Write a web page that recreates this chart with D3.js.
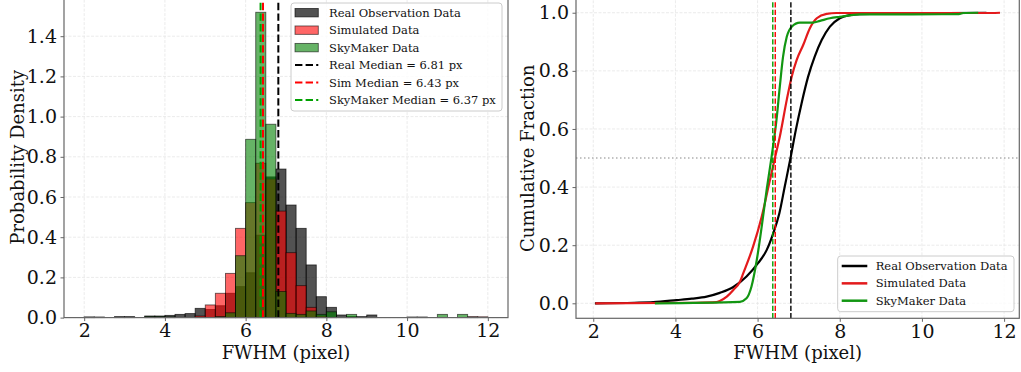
<!DOCTYPE html>
<html>
<head>
<meta charset="utf-8">
<script src="https://cdn.jsdelivr.net/npm/d3@7"></script>
<style>
  html, body { margin: 0; padding: 0; background: #fff; }
  svg { display: block; font-family: "DejaVu Serif", serif; }
</style>
</head>
<body>
<svg id="chart" width="1021" height="372"></svg>
<script>
// ---- histogram bins (FWHM, pixel) ----
const binEdges = [2.0, 2.25, 2.5, 2.75, 3.0, 3.25, 3.5, 3.75, 4.0, 4.25,
  4.5, 4.75, 5.0, 5.25, 5.5, 5.75, 6.0, 6.25, 6.5, 6.75,
  7.0, 7.25, 7.5, 7.75, 8.0, 8.25, 8.5, 8.75, 9.0, 9.25,
  9.5, 9.75, 10.0, 10.25, 10.5, 10.75, 11.0, 11.25, 11.5, 11.75, 12.0];

// probability density per bin
const realDensity = [0.003, 0.003, 0, 0.005, 0.005, 0, 0.008, 0.008, 0.011, 0.016,
  0.02, 0.046, 0.04, 0.059, 0.121, 0.154, 0.223, 0.41, 0.70, 0.739,
  0.56, 0.444, 0.262, 0.104, 0.051, 0.013, 0.005, 0.005, 0.013, 0,
  0, 0, 0.003, 0.003, 0, 0, 0, 0, 0.003, 0];
const simDensity = [0.002, 0, 0, 0, 0, 0, 0, 0, 0, 0,
  0, 0.008, 0.063, 0.121, 0.220, 0.444, 0.572, 0.768, 0.69, 0.53,
  0.323, 0.159, 0.051, 0.008, 0, 0, 0, 0, 0, 0,
  0, 0, 0, 0, 0, 0, 0, 0, 0.004, 0.004];
const skyDensity = [0, 0, 0, 0, 0, 0, 0.005, 0.005, 0.004, 0,
  0, 0, 0, 0.005, 0.024, 0.308, 0.887, 1.519, 0.962, 0.13,
  0.021, 0.016, 0.033, 0.016, 0.029, 0, 0.016, 0, 0, 0,
  0, 0, 0, 0, 0, 0.016, 0, 0.016, 0, 0];

// medians (px)
const medianReal = 6.81, medianSim = 6.43, medianSky = 6.37;

// cumulative distributions: [FWHM, fraction]
const cdfReal = [[2.04, 0], [3.0, 0.002], [3.46, 0.004], [4.03, 0.011], [4.4, 0.016],
  [4.76, 0.023], [5.08, 0.036], [5.41, 0.056], [5.73, 0.092], [6.01, 0.138],
  [6.22, 0.183], [6.38, 0.241], [6.53, 0.31], [6.66, 0.401], [6.80, 0.499],
  [6.93, 0.596], [7.07, 0.688], [7.23, 0.78], [7.39, 0.849], [7.56, 0.906],
  [7.76, 0.952], [8.0, 0.981], [8.25, 0.992], [8.49, 0.995], [9.2, 0.997],
  [10.3, 0.998], [11.57, 1.0]];
const cdfSim = [[2.05, 0], [4.5, 0.002], [5.0, 0.004], [5.08, 0.008], [5.25, 0.023],
  [5.41, 0.046], [5.57, 0.074], [5.65, 0.103], [5.89, 0.195], [6.10, 0.298],
  [6.30, 0.424], [6.42, 0.499], [6.54, 0.573], [6.71, 0.70], [6.83, 0.78],
  [6.95, 0.837], [7.11, 0.889], [7.27, 0.946], [7.44, 0.981], [7.68, 0.996],
  [7.92, 0.999], [11.5, 0.999], [11.9, 1.0]];
const cdfSky = [[3.5, 0], [5.57, 0.005], [5.73, 0.017], [5.85, 0.057], [5.98, 0.149],
  [6.10, 0.264], [6.22, 0.39], [6.34, 0.504], [6.46, 0.631], [6.54, 0.745],
  [6.62, 0.849], [6.71, 0.917], [6.83, 0.952], [7.03, 0.966], [7.35, 0.966],
  [7.52, 0.972], [7.76, 0.981], [8.0, 0.986], [8.49, 0.994], [10.9, 0.995],
  [11.0, 0.999], [11.37, 1.0]];

// ticks
const xTicks = [2, 4, 6, 8, 10, 12];
const densityTicks = [0.0, 0.2, 0.4, 0.6, 0.8, 1.0, 1.2, 1.4];
const cdfTicks = [0.0, 0.2, 0.4, 0.6, 0.8, 1.0];

const histLegend = ["Real Observation Data", "Simulated Data", "SkyMaker Data"];
const medianLegend = ["Real Median = 6.81 px", "Sim Median = 6.43 px", "SkyMaker Median = 6.37 px"];

// ---- drawing ----
const svg = d3.select("#chart");
const TICK_FONT = 19, LABEL_FONT = 18, LEGEND_FONT = 11.5;
const spineColor = "#666";

const xL = d3.scaleLinear().domain([1.5, 12.5]).range([64, 508]);
const yL = d3.scaleLinear().domain([0, 1.595]).range([317.6, -3]);
const xR = d3.scaleLinear().domain([1.58, 12.37]).range([576, 1019.3]);
const yR = d3.scaleLinear().domain([-0.0516, 1.05]).range([318.3, -1.8]);

function panelFrame(x, y, yTicks) {
  const g = svg.append("g");
  const [x0, x1] = x.range();
  const [yb, yt] = y.range();
  // faint grid
  g.append("g").selectAll("line").data(xTicks).join("line")
    .attr("x1", d => x(d)).attr("x2", d => x(d)).attr("y1", yb).attr("y2", yt)
    .attr("stroke", "#e6e6e6").attr("stroke-width", 0.8).attr("stroke-dasharray", "3,1.5");
  g.append("g").selectAll("line").data(yTicks).join("line")
    .attr("x1", x0).attr("x2", x1).attr("y1", d => y(d)).attr("y2", d => y(d))
    .attr("stroke", "#e6e6e6").attr("stroke-width", 0.8).attr("stroke-dasharray", "3,1.5");
  return g;
}

function panelAxes(x, y, yTicks, yLabel, yLabelX) {
  const [x0, x1] = x.range();
  const [yb, yt] = y.range();
  const gx = svg.append("g").attr("transform", `translate(0,${yb})`)
    .call(d3.axisBottom(x).tickValues(xTicks).tickFormat(d3.format("d"))
      .tickSize(3.5).tickPadding(2.5));
  const gy = svg.append("g").attr("transform", `translate(${x0},0)`)
    .call(d3.axisLeft(y).tickValues(yTicks).tickFormat(d3.format(".1f"))
      .tickSize(3.5).tickPadding(3.5));
  [gx, gy].forEach(g => {
    g.select(".domain").remove();
    g.selectAll(".tick line").attr("stroke", spineColor).attr("stroke-width", 1);
    g.selectAll(".tick text").attr("fill", "#111")
      .style("font-family", "DejaVu Serif").style("font-size", TICK_FONT + "px");
  });
  // spines
  svg.append("rect").attr("x", x0).attr("y", yt).attr("width", x1 - x0).attr("height", yb - yt)
    .attr("fill", "none").attr("stroke", spineColor).attr("stroke-width", 1.2);
  svg.append("text").attr("x", (x0 + x1) / 2).attr("y", 359)
    .attr("text-anchor", "middle").attr("fill", "#111")
    .style("font-size", LABEL_FONT + "px").text("FWHM (pixel)");
  svg.append("text")
    .attr("transform", `translate(${yLabelX},${(yb + yt) / 2}) rotate(-90)`)
    .attr("text-anchor", "middle").attr("dominant-baseline", "central").attr("fill", "#111")
    .style("font-size", LABEL_FONT + "px").text(yLabel);
}

// ---------- left panel: histograms ----------
panelFrame(xL, yL, densityTicks);

const histSeries = [
  { values: realDensity, color: "#000", alpha: 0.68 },
  { values: simDensity, color: "red", alpha: 0.6 },
  { values: skyDensity, color: "green", alpha: 0.6 }
];
const hg = svg.append("g");
histSeries.forEach(s => {
  hg.append("g").selectAll("rect")
    .data(s.values.map((v, i) => ({ v, x0: binEdges[i], x1: binEdges[i + 1] })).filter(d => d.v > 0))
    .join("rect")
    .attr("x", d => xL(d.x0)).attr("width", d => xL(d.x1) - xL(d.x0))
    .attr("y", d => yL(d.v)).attr("height", d => yL(0) - yL(d.v))
    .attr("fill", s.color).attr("fill-opacity", s.alpha)
    .attr("stroke", "#000").attr("stroke-opacity", s.alpha).attr("stroke-width", 0.9);
});

const medians = [
  { v: medianReal, color: "#000" },
  { v: medianSim, color: "red" },
  { v: medianSky, color: "#00a000" }
];
hg.append("g").selectAll("line").data(medians).join("line")
  .attr("x1", d => xL(d.v)).attr("x2", d => xL(d.v))
  .attr("y1", yL.range()[0]).attr("y2", yL.range()[1])
  .attr("stroke", d => d.color).attr("stroke-width", 2).attr("stroke-dasharray", "7.4,3.2");

panelAxes(xL, yL, densityTicks, "Probability Density", 17);

// legend (left)
const lg = svg.append("g");
lg.append("rect").attr("x", 291).attr("y", 3).attr("width", 211).attr("height", 108).attr("rx", 3)
  .attr("fill", "#fff").attr("fill-opacity", 0.8).attr("stroke", "#ccc").attr("stroke-width", 1);
const rowY = i => 12.7 + i * 17.46;
histSeries.forEach((s, i) => {
  lg.append("rect").attr("x", 295).attr("y", rowY(i) - 4.2).attr("width", 23.3).attr("height", 8.4)
    .attr("fill", s.color).attr("fill-opacity", s.alpha)
    .attr("stroke", "#000").attr("stroke-opacity", s.alpha).attr("stroke-width", 0.9);
  lg.append("text").attr("x", 329).attr("y", rowY(i)).attr("dominant-baseline", "central")
    .attr("fill", "#111").style("font-size", LEGEND_FONT + "px").text(histLegend[i]);
});
medians.forEach((m, i) => {
  const yy = rowY(i + 3);
  lg.append("line").attr("x1", 295).attr("x2", 318.3).attr("y1", yy).attr("y2", yy)
    .attr("stroke", m.color).attr("stroke-width", 2).attr("stroke-dasharray", "7.4,3.2");
  lg.append("text").attr("x", 329).attr("y", yy).attr("dominant-baseline", "central")
    .attr("fill", "#111").style("font-size", LEGEND_FONT + "px").text(medianLegend[i]);
});

// ---------- right panel: cumulative fractions ----------
panelFrame(xR, yR, cdfTicks);
const rg = svg.append("g");
rg.append("line").attr("x1", xR.range()[0]).attr("x2", xR.range()[1])
  .attr("y1", yR(0.5)).attr("y2", yR(0.5))
  .attr("stroke", "#888").attr("stroke-width", 1.2).attr("stroke-dasharray", "1.5,2.5");

const cdfSeries = [
  { pts: cdfReal, color: "#000" },
  { pts: cdfSim, color: "#e31a1c" },
  { pts: cdfSky, color: "#129612" }
];
const line = d3.line().x(d => xR(d[0])).y(d => yR(d[1])).curve(d3.curveMonotoneX);
cdfSeries.forEach(s => {
  rg.append("path").attr("d", line(s.pts)).attr("fill", "none")
    .attr("stroke", s.color).attr("stroke-width", 2.2).attr("stroke-linejoin", "round");
});
rg.append("g").selectAll("line").data(medians).join("line")
  .attr("x1", d => xR(d.v)).attr("x2", d => xR(d.v))
  .attr("y1", yR.range()[0]).attr("y2", yR.range()[1])
  .attr("stroke", d => d.color).attr("stroke-width", 1.4).attr("stroke-dasharray", "5.2,2.2");

panelAxes(xR, yR, cdfTicks, "Cumulative Fraction", 527);

// legend (right)
const rl = svg.append("g");
rl.append("rect").attr("x", 837.7).attr("y", 256).attr("width", 176.3).attr("height", 55.7).attr("rx", 3)
  .attr("fill", "#fff").attr("fill-opacity", 0.8).attr("stroke", "#ccc").attr("stroke-width", 1);
cdfSeries.forEach((s, i) => {
  const yy = 266 + i * 17.35;
  rl.append("line").attr("x1", 841.7).attr("x2", 867.3).attr("y1", yy).attr("y2", yy)
    .attr("stroke", s.color).attr("stroke-width", 2.5);
  rl.append("text").attr("x", 875.7).attr("y", yy).attr("dominant-baseline", "central")
    .attr("fill", "#111").style("font-size", LEGEND_FONT + "px").text(histLegend[i]);
});
</script>
</body>
</html>
